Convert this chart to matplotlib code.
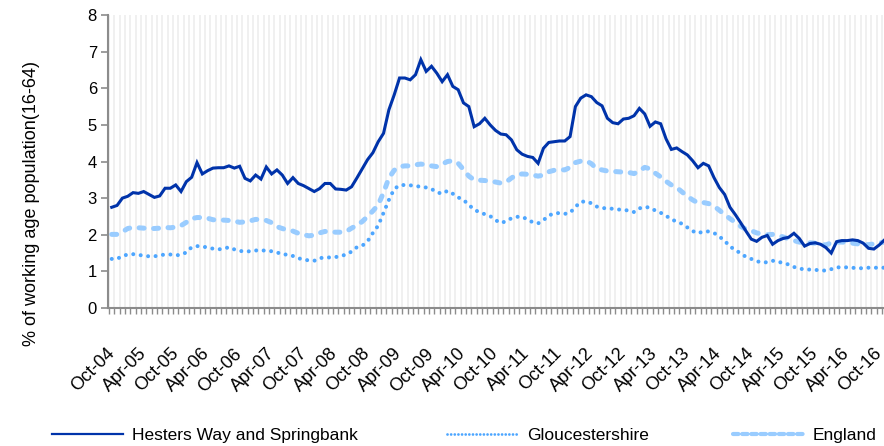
import numpy as np
import pandas as pd
import matplotlib
matplotlib.use('Agg')
import matplotlib.pyplot as plt
from matplotlib.ticker import FixedLocator, MultipleLocator
from matplotlib.transforms import ScaledTranslation
from matplotlib.lines import Line2D

plt.rcParams['font.family'] = ['Liberation Sans', 'DejaVu Sans']

# monthly series, Oct-04 .. Nov-16
months = pd.date_range('2004-10-01', '2016-11-01', freq='MS')
labels = [d.strftime('%b-%y') for d in months]

hesters = [2.75, 2.80, 3.00, 3.05, 3.15, 3.13, 3.18, 3.10, 3.02, 3.06,
           3.27, 3.27, 3.36, 3.18, 3.45, 3.57, 3.97, 3.66, 3.75, 3.82,
           3.83, 3.83, 3.88, 3.82, 3.87, 3.54, 3.47, 3.63, 3.52, 3.85,
           3.66, 3.77, 3.63, 3.40, 3.56, 3.40, 3.34, 3.26, 3.18, 3.26,
           3.40, 3.40, 3.25, 3.24, 3.22, 3.31, 3.55, 3.80, 4.05, 4.24,
           4.54, 4.77, 5.41, 5.82, 6.28, 6.28, 6.23, 6.37, 6.78, 6.46,
           6.60, 6.41, 6.18, 6.37, 6.05, 5.96, 5.60, 5.50, 4.95, 5.03,
           5.18, 5.00, 4.85, 4.75, 4.73, 4.59, 4.32, 4.20, 4.14, 4.11,
           3.95, 4.36, 4.52, 4.54, 4.56, 4.56, 4.68, 5.50, 5.73, 5.82,
           5.77, 5.61, 5.52, 5.18, 5.06, 5.03, 5.16, 5.18, 5.25, 5.45,
           5.30, 4.96, 5.08, 5.03, 4.62, 4.33, 4.37, 4.27, 4.18, 4.02,
           3.83, 3.95, 3.88, 3.56, 3.29, 3.10, 2.75, 2.55, 2.33, 2.10,
           1.88, 1.82, 1.93, 1.98, 1.74, 1.84, 1.90, 1.93, 2.04, 1.90,
           1.69, 1.76, 1.78, 1.74, 1.65, 1.50, 1.81, 1.84, 1.84, 1.86,
           1.84, 1.77, 1.63, 1.61, 1.72, 1.86]

glos = [1.34, 1.34, 1.42, 1.46, 1.47, 1.45, 1.43, 1.41, 1.41, 1.44,
        1.46, 1.46, 1.44, 1.45, 1.52, 1.66, 1.69, 1.68, 1.65, 1.62,
        1.60, 1.62, 1.66, 1.60, 1.56, 1.54, 1.55, 1.57, 1.58, 1.56,
        1.55, 1.52, 1.46, 1.46, 1.42, 1.36, 1.32, 1.30, 1.29, 1.36,
        1.38, 1.38, 1.39, 1.42, 1.46, 1.54, 1.66, 1.70, 1.82, 2.05,
        2.25, 2.60, 2.95, 3.25, 3.35, 3.36, 3.35, 3.33, 3.31, 3.29,
        3.25, 3.16, 3.12, 3.20, 3.12, 3.02, 2.95, 2.82, 2.68, 2.62,
        2.56, 2.51, 2.40, 2.32, 2.37, 2.45, 2.49, 2.49, 2.42, 2.34,
        2.31, 2.40, 2.52, 2.59, 2.59, 2.57, 2.60, 2.76, 2.90, 2.91,
        2.86, 2.77, 2.73, 2.72, 2.71, 2.69, 2.68, 2.66, 2.62, 2.72,
        2.76, 2.74, 2.66, 2.60, 2.52, 2.42, 2.36, 2.30, 2.20, 2.10,
        2.04, 2.09, 2.09, 2.05, 1.95, 1.84, 1.67, 1.60, 1.48, 1.40,
        1.34, 1.28, 1.24, 1.25, 1.29, 1.27, 1.22, 1.19, 1.12, 1.08,
        1.05, 1.05, 1.04, 1.03, 1.02, 1.06, 1.11, 1.11, 1.11, 1.10,
        1.08, 1.09, 1.10, 1.10, 1.10, 1.10]

england = [2.01, 2.01, 2.08, 2.17, 2.20, 2.19, 2.18, 2.17, 2.17, 2.18,
           2.20, 2.19, 2.21, 2.25, 2.34, 2.44, 2.47, 2.47, 2.45, 2.41,
           2.40, 2.40, 2.39, 2.37, 2.34, 2.35, 2.38, 2.42, 2.41, 2.39,
           2.33, 2.22, 2.17, 2.13, 2.10, 2.04, 2.00, 1.97, 1.99, 2.05,
           2.09, 2.08, 2.07, 2.07, 2.09, 2.18, 2.26, 2.36, 2.50, 2.65,
           2.82, 3.15, 3.55, 3.76, 3.86, 3.88, 3.88, 3.91, 3.93, 3.91,
           3.88, 3.86, 3.93, 4.00, 4.02, 3.95, 3.78, 3.60, 3.50, 3.49,
           3.48, 3.46, 3.44, 3.41, 3.44, 3.55, 3.64, 3.66, 3.65, 3.63,
           3.60, 3.63, 3.72, 3.76, 3.78, 3.77, 3.84, 3.97, 4.01, 4.02,
           3.94, 3.80, 3.77, 3.74, 3.73, 3.72, 3.71, 3.70, 3.67, 3.74,
           3.84, 3.80, 3.68, 3.58, 3.46, 3.36, 3.29, 3.17, 3.05, 2.95,
           2.87, 2.88, 2.85, 2.78, 2.67, 2.55, 2.44, 2.34, 2.23, 2.15,
           2.11, 2.05, 2.02, 2.00, 2.01, 1.98, 1.94, 1.89, 1.84, 1.80,
           1.78, 1.78, 1.77, 1.74, 1.72, 1.78, 1.80, 1.80, 1.79, 1.77,
           1.75, 1.73, 1.73, 1.75, 1.78, 1.80]

x = np.arange(len(months))
c_hes, c_glo, c_eng = '#0033aa', '#4da6ff', '#99ccff'

fig = plt.figure(figsize=(8.84, 4.46), dpi=100)
ax = fig.add_axes([108/884, 1-308/446, 1-108/884, (308-15)/446])

ax.plot(x, england, color=c_eng, lw=3.6, linestyle=(0, (1.0, 1.9)),
        dash_capstyle='round', zorder=3)
ax.plot(x, glos, color=c_glo, lw=2.9, linestyle=(0, (0.01, 1.85)),
        dash_capstyle='round', zorder=4)
ax.plot(x, hesters, color=c_hes, lw=2.2, solid_joinstyle='miter', zorder=5)

ax.set_ylim(0, 8)
ax.set_xlim(-0.7, 144.9)
ax.yaxis.set_major_locator(MultipleLocator(1))
ax.set_xticks(x[::6])
ax.set_xticklabels(labels[::6], rotation=45, ha='right', va='center',
                   rotation_mode='anchor', fontsize=13)
shift = ScaledTranslation(-0.06, 0, fig.dpi_scale_trans)
for t in ax.get_xticklabels():
    t.set_transform(t.get_transform() + shift)
ax.xaxis.set_minor_locator(FixedLocator(x - 0.5))
ax.tick_params(axis='x', which='major', length=0, pad=31)
ax.tick_params(axis='x', which='minor', length=4, color='#8c8c8c', width=1)
ax.tick_params(axis='y', length=5, color='#8c8c8c', width=1.2, labelsize=12, pad=3)
ax.grid(axis='x', which='minor', color='#eeeeee', lw=1.2)
ax.set_axisbelow(True)
for s in ['top', 'right']:
    ax.spines[s].set_visible(False)
for s in ['left', 'bottom']:
    ax.spines[s].set_color('#8c8c8c')
    ax.spines[s].set_linewidth(1.5)

fig.text(32/884, 1-203/446, '% of working age population(16-64)', rotation=90,
         ha='center', va='center', fontsize=13)

# legend, three entries spread along the bottom
handles = [Line2D([], [], color=c_hes, lw=1.6),
           Line2D([], [], color=c_glo, lw=2.0, linestyle=(0, (0.01, 1.3)),
                  dash_capstyle='round'),
           Line2D([], [], color=c_eng, lw=3.0, linestyle=(0, (1.3, 0.9)),
                  dash_capstyle='round')]
names = ['Hesters Way and Springbank', 'Gloucestershire', 'England']
xs = [52/884, 447/884, 733/884]
for hd, nm, xp in zip(handles, names, xs):
    fig.legend([hd], [nm], loc='center left', bbox_to_anchor=(xp, 1-435/446),
               frameon=False, fontsize=12.5, handlelength=4.1, handletextpad=0.5,
               borderaxespad=0, borderpad=0)

fig.savefig('out.png', dpi=100)
